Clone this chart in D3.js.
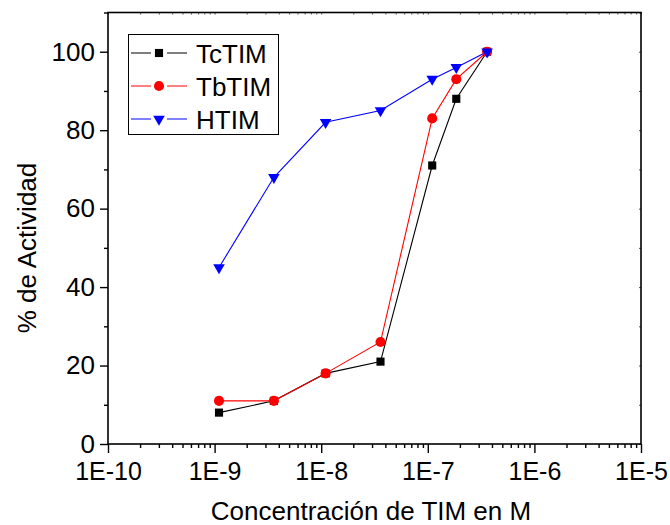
<!DOCTYPE html>
<html><head><meta charset="utf-8">
<script src="https://cdn.jsdelivr.net/npm/d3@7"></script>
<style>body{margin:0;background:#fff}text{font-family:"Liberation Sans",Arial,sans-serif;fill:#000}</style>
</head><body><svg id="c" width="670" height="525"></svg>
<script>
const concentrations = [1.1e-9, 3.6e-9, 1.1e-8, 3.6e-8, 1.1e-7, 1.85e-7, 3.6e-7];
const tcTIM = [8, 11, 18, 21, 71, 88, 100];
const tbTIM = [11, 11, 18, 26, 83, 93, 100];
const hTIM  = [45, 68, 82, 85, 93, 96, 100];
const seriesNames = ["TcTIM", "TbTIM", "HTIM"];
const xTickValues = [1e-10, 1e-9, 1e-8, 1e-7, 1e-6, 1e-5];
const xTickLabels = ["1E-10", "1E-9", "1E-8", "1E-7", "1E-6", "1E-5"];
const yTickValues = [0, 20, 40, 60, 80, 100];

const series = [
  {name: seriesNames[0], values: tcTIM, color: "#000000", symbol: d3.symbolSquare, size: 66},
  {name: seriesNames[1], values: tbTIM, color: "#ff0000", symbol: d3.symbolCircle, size: 80},
  {name: seriesNames[2], values: hTIM,  color: "#0000ff", symbol: d3.symbolTriangle, size: 58, rot: 180}
];

const svg = d3.select("#c");
const L = 108, R = 641, T = 12.5, B = 444;
const x = d3.scaleLog().domain([1e-10, 1e-5]).range([L, R]);
const y = d3.scaleLinear().domain([0, 110]).range([B, T]);

const minorX = [];
for (let e = -10; e < -5; e++) for (let m = 2; m <= 9; m++) minorX.push(m * Math.pow(10, e));
const minorY = [10, 30, 50, 70, 90, 110];

const fs = 25;
const ff = '"Liberation Sans",Arial,sans-serif';
// bottom axis
const gx = svg.append("g").attr("transform", `translate(0,${B})`)
  .call(d3.axisBottom(x).tickValues(xTickValues).tickFormat((d,i)=>xTickLabels[i]).tickSize(9).tickSizeOuter(0).tickPadding(9));
gx.select(".domain").remove();
gx.selectAll("line").attr("stroke", "#000").attr("stroke-width", 1.4);
gx.selectAll("text").attr("font-size", fs).style("font-family", ff);
svg.append("g").attr("transform", `translate(0,${B})`)
  .call(d3.axisBottom(x).tickValues(minorX).tickFormat("").tickSize(4).tickSizeOuter(0))
  .call(g => { g.select(".domain").remove(); g.selectAll("line").attr("stroke","#000").attr("stroke-width",1.4); });

// left axis
const gy = svg.append("g").attr("transform", `translate(${L},0)`)
  .call(d3.axisLeft(y).tickValues(yTickValues).tickSize(8).tickSizeOuter(0).tickPadding(5));
gy.select(".domain").remove();
gy.selectAll("line").attr("stroke", "#000").attr("stroke-width", 1.4);
gy.selectAll("text").attr("font-size", 26).style("font-family", ff);
svg.append("g").attr("transform", `translate(${L},0)`)
  .call(d3.axisLeft(y).tickValues(minorY).tickFormat("").tickSize(4).tickSizeOuter(0))
  .call(g => { g.select(".domain").remove(); g.selectAll("line").attr("stroke","#000").attr("stroke-width",1.4); });

// top / right axes, small inward ticks
svg.append("g").attr("transform", `translate(0,${T})`)
  .call(d3.axisTop(x).tickValues(xTickValues.concat(minorX)).tickFormat("").tickSize(-2).tickSizeOuter(0))
  .call(g => { g.select(".domain").remove(); g.selectAll("line").attr("stroke","#555").attr("stroke-width",1); });
svg.append("g").attr("transform", `translate(${R},0)`)
  .call(d3.axisRight(y).tickValues(yTickValues.concat(minorY)).tickFormat("").tickSize(-2).tickSizeOuter(0))
  .call(g => { g.select(".domain").remove(); g.selectAll("line").attr("stroke","#555").attr("stroke-width",1); });

// frame
svg.append("rect").attr("x", L).attr("y", T).attr("width", R - L).attr("height", B - T)
  .attr("fill", "none").attr("stroke", "#000").attr("stroke-width", 1.6);

// series
const line = d3.line().x((d,i) => x(concentrations[i])).y(d => y(d));
series.forEach(s => {
  svg.append("path").datum(s.values).attr("d", line)
    .attr("fill", "none").attr("stroke", s.color).attr("stroke-width", 1.1);
});
series.forEach(s => {
  svg.append("g").selectAll("path").data(s.values).join("path")
    .attr("d", d3.symbol().type(s.symbol).size(s.size))
    .attr("transform", (d,i) => `translate(${x(concentrations[i])},${y(d)})` + (s.rot ? ` rotate(${s.rot})` : ""))
    .attr("fill", s.color);
});

// legend
const lg = svg.append("g");
lg.append("rect").attr("x", 128.5).attr("y", 34.5).attr("width", 150).attr("height", 100)
  .attr("fill", "#fff").attr("stroke", "#000").attr("stroke-width", 1);
series.forEach((s, i) => {
  const yy = 53 + i * 33;
  lg.append("line").attr("x1", 131).attr("x2", 151).attr("y1", yy).attr("y2", yy).attr("stroke", s.color).attr("stroke-width", 1);
  lg.append("line").attr("x1", 167).attr("x2", 187).attr("y1", yy).attr("y2", yy).attr("stroke", s.color).attr("stroke-width", 1);
  lg.append("path").attr("d", d3.symbol().type(s.symbol).size(s.size))
    .attr("transform", `translate(159,${yy})` + (s.rot ? ` rotate(${s.rot})` : "")).attr("fill", s.color);
  lg.append("text").attr("x", 196).attr("y", yy + 9.5).attr("font-size", 26).style("font-family", ff).text(s.name);
});

// axis titles
svg.append("text").attr("x", 371).attr("y", 520).attr("text-anchor", "middle").attr("font-size", 26)
  .style("font-family", ff).text("Concentración de TIM en M");
svg.append("text").attr("transform", "translate(36,248) rotate(-90)").attr("text-anchor", "middle").attr("font-size", 26)
  .style("font-family", ff).text("% de Actividad");
</script></body></html>
